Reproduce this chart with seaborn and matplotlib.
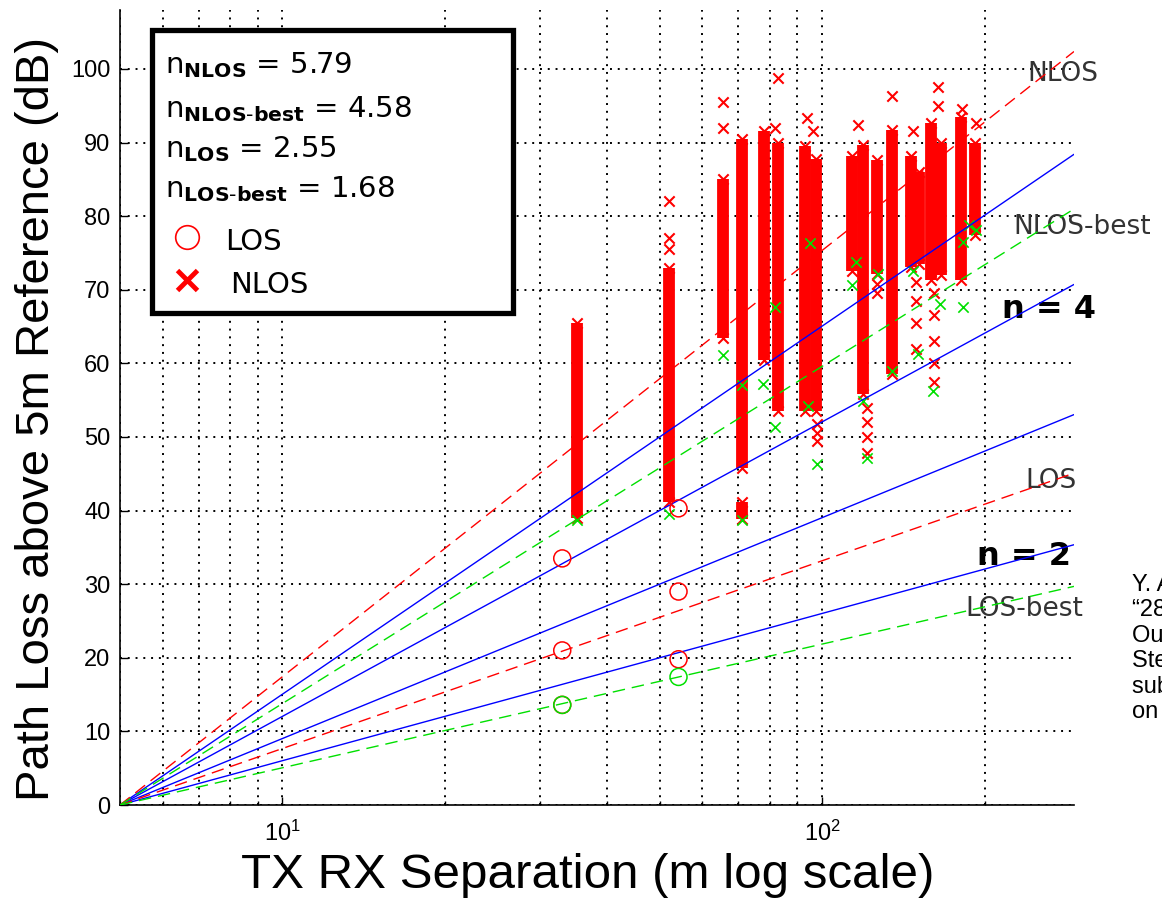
import numpy as np
import pandas as pd
import matplotlib
matplotlib.use("Agg")
import matplotlib.pyplot as plt
import seaborn as sns
from matplotlib.patches import Rectangle
from matplotlib.ticker import LogLocator, NullFormatter, MultipleLocator

# --- Data ---
# path loss exponents from the legend box
n_nlos = 5.79
n_nlos_best = 4.58
n_los = 2.55
n_los_best = 1.68
n_guides = [2, 3, 4, 5]          # blue solid reference lines

d_ref = 5.0                      # 5 m reference distance
d_max = 293.0                    # right edge of the axis

# dense NLOS measurement columns: distance (m), bottom / top of the red band (dB)
col_dist = [35.1, 52.0, 65.5, 71.0, 71.0, 78.0, 82.7, 93.0, 97.5,
            113.5, 119.0, 126.5, 134.5, 146.0, 151.0, 159.0, 166.0, 181.0, 192.0]
col_low = [39.0, 41.2, 63.4, 45.8, 38.9, 60.4, 53.5, 53.5, 53.5,
           72.6, 55.8, 72.2, 58.5, 73.1, 73.5, 71.3, 72.0, 71.3, 77.5]
col_high = [65.5, 73.0, 85.0, 90.5, 41.2, 91.5, 90.0, 89.5, 87.7,
            88.1, 89.7, 87.6, 91.7, 88.1, 86.0, 92.6, 90.0, 93.5, 90.0]

# scattered NLOS points outside the dense bands
nlos_out_d = [52.0, 52.0, 52.0, 65.5, 65.5, 81.8, 82.9, 93.6, 96.3,
              98.0, 98.0, 98.0, 116.5, 120.9, 120.9, 120.9, 120.9, 126.5, 126.5,
              134.5, 147.6, 149.0, 149.0, 149.0, 149.0, 164.0, 164.0,
              161.0, 161.0, 161.0, 161.0, 161.0, 181.8, 192.5]
nlos_out_db = [82.0, 77.0, 75.5, 95.5, 92.0, 92.0, 98.8, 93.3, 91.5,
               51.7, 50.5, 49.5, 92.4, 54.0, 52.0, 50.0, 47.8, 70.8, 69.5,
               96.3, 91.5, 71.0, 68.5, 65.5, 62.0, 97.6, 94.9,
               69.5, 66.5, 63.0, 60.0, 57.5, 94.5, 92.6]

# NLOS-best points (green x)
nlos_best_d = [35.1, 52.0, 65.5, 71.0, 71.0, 77.8, 81.8, 81.8, 95.0, 94.0, 97.8,
               115.8, 113.6, 119.3, 120.9, 134.5, 127.0, 147.6, 150.6,
               165.1, 160.6, 187.5, 192.5, 182.8, 182.8]
nlos_best_db = [38.7, 39.6, 61.1, 57.0, 38.7, 57.2, 67.7, 51.4, 76.3, 54.2, 46.3,
                73.8, 70.6, 54.9, 47.2, 59.0, 72.2, 72.6, 61.3,
                68.1, 56.3, 78.8, 78.1, 76.5, 67.6]

# LOS points (red circles) and LOS-best points (green circles)
los_d = [33.0, 33.0, 33.0, 54.2, 54.2, 54.2]
los_db = [33.5, 21.0, 13.6, 40.3, 29.0, 19.8]
los_best_d = [33.0, 54.2]
los_best_db = [13.6, 17.4]

# --- Style ---
sns.set_style("ticks", {"xtick.direction": "in", "ytick.direction": "in"})
plt.rcParams["font.family"] = ["Liberation Sans", "DejaVu Sans"]
plt.rcParams["mathtext.fontset"] = "dejavusans"
for key in ["text.color", "axes.labelcolor", "xtick.color", "ytick.color",
            "xtick.labelcolor", "ytick.labelcolor"]:
    plt.rcParams[key] = "black"

RED = "#ff0000"
GREEN = "#00e000"
BLUE = "#0000ff"

fig = plt.figure(figsize=(11.62, 9.05), dpi=100)
ax = fig.add_axes([120 / 1162, 100 / 905, 954 / 1162, 795 / 905])
ax.set_xscale("log")

# dense bands drawn as thick red strokes
ax.vlines(col_dist, col_low, col_high, colors=RED, linewidth=8.5, zorder=2)
ends = pd.DataFrame({"d": col_dist * 2, "db": col_low + col_high})
sns.scatterplot(data=ends, x="d", y="db", marker="x", color=RED, s=55,
                linewidth=1.5, ax=ax, zorder=3)
sns.scatterplot(x=nlos_out_d, y=nlos_out_db, marker="x", color=RED, s=55,
                linewidth=1.5, ax=ax, zorder=3)
sns.scatterplot(x=nlos_best_d, y=nlos_best_db, marker="x", color=GREEN, s=55,
                linewidth=1.2, ax=ax, zorder=4)

# path loss model lines: PL = 10 n log10(d / 5m)
span = np.array([d_ref, d_max])
def pl(n):
    return 10 * n * np.log10(span / d_ref)

for n in n_guides:
    sns.lineplot(x=span, y=pl(n), color=BLUE, linewidth=1.0, ax=ax, zorder=5)
for n, c in [(n_nlos, RED), (n_los, RED), (n_nlos_best, GREEN), (n_los_best, GREEN)]:
    sns.lineplot(x=span, y=pl(n), color=c, linewidth=1.0, ax=ax, zorder=5,
                 dashes=False, linestyle=(0, (9, 5)))

sns.scatterplot(x=los_d, y=los_db, marker="o", facecolor="none", edgecolor=RED,
                s=150, linewidth=1.1, ax=ax, zorder=6)
sns.scatterplot(x=los_best_d, y=los_best_db, marker="o", facecolor="none",
                edgecolor=GREEN, s=150, linewidth=1.1, ax=ax, zorder=6)

# --- Axes ---
ax.set_xlim(d_ref, d_max)
ax.set_ylim(0, 108)
ax.yaxis.set_major_locator(MultipleLocator(10))
ax.xaxis.set_major_locator(LogLocator(base=10, numticks=10))
ax.xaxis.set_minor_locator(LogLocator(base=10, subs=np.arange(2, 10), numticks=20))
ax.xaxis.set_minor_formatter(NullFormatter())
ax.set_yticks(np.arange(0, 101, 10))
ax.grid(True, which="both", axis="x", color="black", linestyle=(0, (1, 3)), linewidth=1.4)
ax.grid(True, which="major", axis="y", color="black", linestyle=(0, (1, 3)), linewidth=1.4)
ax.set_axisbelow(True)
ax.tick_params(axis="both", which="major", labelsize=17, length=6, width=1, color="black")
ax.tick_params(axis="x", which="minor", length=3, width=1)
ax.tick_params(axis="y", pad=7)
ax.tick_params(axis="x", pad=11)
sns.despine(ax=ax)
for s in ["left", "bottom"]:
    ax.spines[s].set_linewidth(1.2)
    ax.spines[s].set_color("black")

ax.set_xlabel("TX RX Separation (m log scale)", fontsize=35.5)
ax.set_ylabel("Path Loss above 5m Reference (dB)", fontsize=34)
ax.xaxis.set_label_coords(0.49, -0.061)
ax.yaxis.set_label_coords(-0.064, 0.485)

# --- Line labels ---
lbl = dict(fontsize=19, color="#333333", family="DejaVu Sans", va="center", ha="left")
ax.text(239.7, 99.3, "NLOS", **lbl)
ax.text(225.8, 78.5, "NLOS-best", **lbl)
ax.text(237.7, 44.0, "LOS", **lbl)
ax.text(184.0, 26.6, "LOS-best", **lbl)
ax.text(215.4, 67.3, "n = 4", fontsize=23, fontweight="bold", family="DejaVu Sans",
        va="center", ha="left", color="black")
ax.text(193.6, 33.7, "n = 2", fontsize=23, fontweight="bold", family="DejaVu Sans",
        va="center", ha="left", color="black")

# --- Legend box ---
ax.add_patch(Rectangle((0.034, 0.619), 0.378, 0.356, transform=ax.transAxes,
                       facecolor="white", edgecolor="black", linewidth=3.8,
                       zorder=10, clip_on=False))
rows = [(r"n$_{\mathbf{NLOS}}$ = " + f"{n_nlos:.2f}", 0.921),
        (r"n$_{\mathbf{NLOS\text{-}best}}$ = " + f"{n_nlos_best:.2f}", 0.865),
        (r"n$_{\mathbf{LOS}}$ = " + f"{n_los:.2f}", 0.815),
        (r"n$_{\mathbf{LOS\text{-}best}}$ = " + f"{n_los_best:.2f}", 0.765)]
for txt, yy in rows:
    ax.text(0.047, yy, txt, transform=ax.transAxes, fontsize=21, family="DejaVu Sans",
            va="baseline", ha="left", zorder=11)
ax.plot([0.0702], [0.714], transform=ax.transAxes, marker="o", markersize=17,
        markerfacecolor="none", markeredgecolor=RED, markeredgewidth=1.2,
        zorder=11, clip_on=False)
ax.text(0.110, 0.698, "LOS", transform=ax.transAxes, fontsize=21, family="DejaVu Sans",
        va="baseline", ha="left", zorder=11)
ax.plot([0.0702], [0.660], transform=ax.transAxes, marker="x", markersize=14,
        markeredgecolor=RED, markeredgewidth=3.5, zorder=11, clip_on=False)
ax.text(0.115, 0.644, "NLOS", transform=ax.transAxes, fontsize=21, family="DejaVu Sans",
        va="baseline", ha="left", zorder=11)

# --- Citation (runs off the right edge, as in the source figure) ---
fig.text(1132 / 1162, 1 - 574 / 905,
         "Y. Azar, G. N. Wong, K. Wang, R. Mayzus, J. K. Schulz, H. Zhao, F. Gutierrez,\n"
         "\u201c28 GHz Propagation Measurements for\n"
         "Outdoor Cellular Communications Using\n"
         "Steerable Beam Antennas in New York City,\u201d\n"
         "submitted to 2013 IEEE International Conference\n"
         "on Communications (ICC)",
         fontsize=17, family="Liberation Sans", va="top", ha="left", linespacing=1.2)

fig.savefig("out.png", dpi=100)
